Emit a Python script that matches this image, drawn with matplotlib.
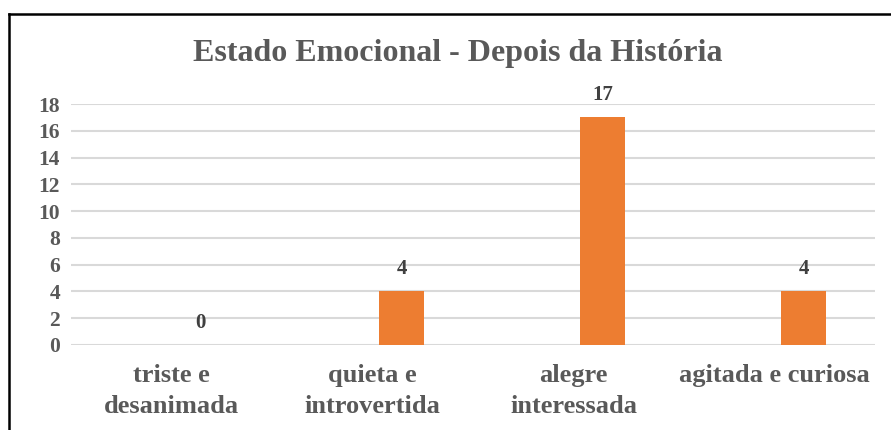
import numpy as np
import matplotlib.pyplot as plt
from matplotlib.lines import Line2D

# data
categorias = ["triste e\ndesanimada", "quieta e\nintrovertida", "alegre\ninteressada", "agitada e curiosa"]
valores = [0, 4, 17, 4]
yticks = [0, 2, 4, 6, 8, 10, 12, 14, 16, 18]
titulo = "Estado Emocional - Depois da História"

plt.rcParams['font.family'] = ['Liberation Serif', 'DejaVu Serif']
plt.rcParams['font.weight'] = 'bold'

fig = plt.figure(figsize=(8.91, 4.30), dpi=100)
ax = fig.add_axes([71/891, 1-345/430, (875-71)/891, (345-104)/430])

x = np.arange(len(categorias))
offset = 0.144
largura = 0.224
barras = ax.bar(x + offset, valores, width=largura, color='#ED7D31', zorder=3)

for xi, v in zip(x, valores):
    ax.text(xi + offset, v + 0.9, str(v), ha='center', va='bottom',
            fontsize=15, fontweight='bold', color='#404040')

ax.set_xlim(-0.5, 3.5)
ax.set_ylim(0, 18)
ax.set_yticks(yticks)
ax.set_xticks(x)
ax.set_xticklabels(categorias, fontsize=19, fontweight='bold', color='#595959', linespacing=1.4)
ax.tick_params(axis='y', labelsize=15.5, labelcolor='#595959', length=0, pad=8)
ax.tick_params(axis='x', length=0, pad=14)
for lbl in ax.get_yticklabels():
    lbl.set_fontweight('bold')

ax.grid(axis='y', color='#d9d9d9', linewidth=1.5, zorder=0)
for s in ax.spines.values():
    s.set_visible(False)

fig.text(458/891, 1-54/430, titulo, ha='center', va='center',
         fontsize=23, fontweight='bold', color='#595959')

# moldura (so esquerda e topo visiveis)
fig.add_artist(Line2D([8.5/891, 8.5/891], [0, 1-13.5/430], transform=fig.transFigure, color='black', linewidth=1.8))
fig.add_artist(Line2D([8.5/891, 1], [1-13.5/430, 1-13.5/430], transform=fig.transFigure, color='black', linewidth=1.8))

plt.savefig('out.png', dpi=100)
